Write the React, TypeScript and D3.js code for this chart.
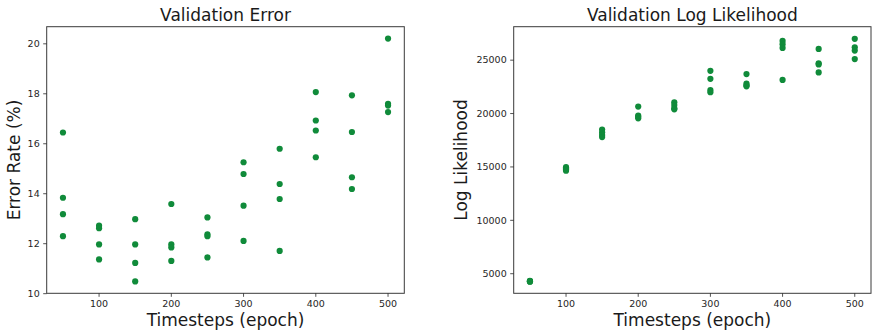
import * as d3 from 'd3';
import React, { useRef, useEffect } from 'react';

// epochs on the x axis (4 runs per epoch)
const epochs = [50, 100, 150, 200, 250, 300, 350, 400, 450, 500];

const errorRates: number[][] = [
    [16.45, 13.84, 13.18, 12.30],
    [12.72, 12.62, 11.97, 11.37],
    [12.98, 11.97, 11.23, 10.49],
    [13.59, 11.97, 11.85, 11.31],
    [13.05, 12.37, 12.30, 11.45],
    [15.26, 14.79, 13.52, 12.11],
    [15.80, 14.39, 13.79, 11.71],
    [18.07, 16.93, 16.53, 15.46],
    [17.94, 16.47, 14.66, 14.19],
    [20.21, 17.60, 17.53, 17.27],
];

const logLikelihoods: number[][] = [
    [4330, 4280, 4250, 4300],
    [14980, 14850, 14750, 14650],
    [18500, 18250, 18000, 17800],
    [20650, 19800, 19700, 19550],
    [21050, 20800, 20500, 20400],
    [24000, 23250, 22200, 22000],
    [23700, 22800, 22650, 22550],
    [26800, 26500, 26150, 23150],
    [26050, 24700, 24600, 23850],
    [27000, 26200, 25900, 25100],
];

const xTicks = [100, 200, 300, 400, 500];
const errorTicks = [10, 12, 14, 16, 18, 20];
const llTicks = [5000, 10000, 15000, 20000, 25000];

const WIDTH = 872;
const HEIGHT = 334;
const GREEN = '#108b3a';
const FONT = "'DejaVu Sans', sans-serif";

interface Panel {
    left: number;
    right: number;
    title: string;
    yLabel: string;
    yLabelX: number;
    values: number[][];
    yDomain: [number, number];
    yTicks: number[];
}

const panels: Panel[] = [
    {
        left: 46.7, right: 404.3,
        title: 'Validation Error', yLabel: 'Error Rate (%)', yLabelX: 19.5,
        values: errorRates, yDomain: [10.015, 20.685], yTicks: errorTicks,
    },
    {
        left: 513.7, right: 871,
        title: 'Validation Log Likelihood', yLabel: 'Log Likelihood', yLabelX: 467,
        values: logLikelihoods, yDomain: [3165, 28135], yTicks: llTicks,
    },
];

const App: React.FC = () => {
    const svgRef = useRef<SVGSVGElement | null>(null);

    useEffect(() => {
        const svg = d3.select(svgRef.current).attr('width', WIDTH).attr('height', HEIGHT);
        svg.selectAll('*').remove();

        svg.append('rect').attr('width', WIDTH).attr('height', HEIGHT).attr('fill', '#fff');

        const top = 26.7;
        const bottom = 293.3;

        panels.forEach(p => {
            const x = d3.scaleLinear().domain([27.5, 522.5]).range([p.left, p.right]);
            const y = d3.scaleLinear().domain(p.yDomain).range([bottom, top]);
            const g = svg.append('g');

            // points
            const pts = p.values.flatMap((vals, i) => vals.map(v => ({ e: epochs[i], v })));
            g.selectAll('circle')
                .data(pts)
                .enter()
                .append('circle')
                .attr('cx', d => x(d.e))
                .attr('cy', d => y(d.v))
                .attr('r', 3.1)
                .attr('fill', GREEN);

            // frame
            g.append('rect')
                .attr('x', p.left)
                .attr('y', top)
                .attr('width', p.right - p.left)
                .attr('height', bottom - top)
                .attr('fill', 'none')
                .attr('stroke', '#3a3a3a')
                .attr('stroke-width', 1);

            // x ticks
            xTicks.forEach(t => {
                g.append('line')
                    .attr('x1', x(t)).attr('x2', x(t))
                    .attr('y1', bottom).attr('y2', bottom + 3.5)
                    .attr('stroke', '#262626').attr('stroke-width', 0.8);
                g.append('text')
                    .attr('x', x(t))
                    .attr('y', bottom + 14)
                    .attr('text-anchor', 'middle')
                    .attr('font-family', FONT)
                    .attr('font-size', 9.5)
                    .attr('fill', '#262626')
                    .text(t);
            });

            // y ticks
            p.yTicks.forEach(t => {
                g.append('line')
                    .attr('x1', p.left - 3.5).attr('x2', p.left)
                    .attr('y1', y(t)).attr('y2', y(t))
                    .attr('stroke', '#262626').attr('stroke-width', 0.8);
                g.append('text')
                    .attr('x', p.left - 7)
                    .attr('y', y(t))
                    .attr('dy', '0.35em')
                    .attr('text-anchor', 'end')
                    .attr('font-family', FONT)
                    .attr('font-size', 9.5)
                    .attr('fill', '#262626')
                    .text(t);
            });

            const cx = (p.left + p.right) / 2;
            g.append('text')
                .attr('x', cx)
                .attr('y', 21)
                .attr('text-anchor', 'middle')
                .attr('font-family', FONT)
                .attr('font-size', 17)
                .attr('fill', '#1a1a1a')
                .text(p.title);

            g.append('text')
                .attr('x', cx)
                .attr('y', 326)
                .attr('text-anchor', 'middle')
                .attr('font-family', FONT)
                .attr('font-size', 17)
                .attr('fill', '#1a1a1a')
                .text('Timesteps (epoch)');

            g.append('text')
                .attr('transform', `translate(${p.yLabelX}, ${(top + bottom) / 2}) rotate(-90)`)
                .attr('text-anchor', 'middle')
                .attr('font-family', FONT)
                .attr('font-size', 17)
                .attr('fill', '#1a1a1a')
                .text(p.yLabel);
        });
    }, []);

    return <svg ref={svgRef} style={{ position: 'absolute', left: 0, top: 0 }}></svg>;
};

export default App;
